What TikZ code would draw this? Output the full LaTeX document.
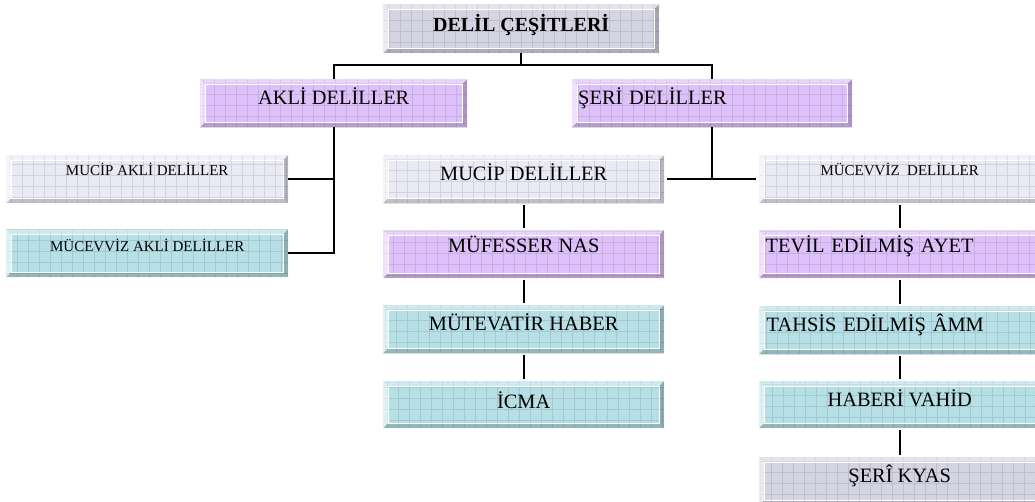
\documentclass[tikz,border=0pt]{standalone}
\usepackage{fontspec}
\setmainfont{Liberation Serif}
\usetikzlibrary{calc}
\definecolor{lgray}{RGB}{234,234,245}
\definecolor{dgray}{RGB}{212,212,226}
\definecolor{purp}{RGB}{222,192,250}
\definecolor{tealc}{RGB}{182,224,230}
\tikzset{
 bev/.style={rectangle, anchor=north west, inner sep=0pt, fill=#1, text=black,
   path picture={
     \path (path picture bounding box.south west) coordinate (bsw)
           (path picture bounding box.north east) coordinate (bne);
     \draw[#1!55!black, opacity=0.22, line width=0.7pt] (bsw) grid[step=11pt] (bne);
     \fill[white, opacity=0.55] (bsw) -- (bsw |- bne) -- ($(bsw |- bne)+(5pt,-5pt)$) -- ($(bsw)+(5pt,5pt)$) -- cycle;
     \fill[white, opacity=0.35] (bsw |- bne) -- (bne) -- ($(bne)+(-5pt,-5pt)$) -- ($(bsw |- bne)+(5pt,-5pt)$) -- cycle;
     \fill[black, opacity=0.22] (bne) -- (bne |- bsw) -- ($(bne |- bsw)+(-5pt,5pt)$) -- ($(bne)+(-5pt,-5pt)$) -- cycle;
     \fill[black, opacity=0.18] (bsw) -- (bne |- bsw) -- ($(bne |- bsw)+(-5pt,5pt)$) -- ($(bsw)+(5pt,5pt)$) -- cycle;
     \draw[white, line width=1.2pt] ($(bsw)+(5pt,5pt)$) rectangle ($(bne)+(-5pt,-5pt)$);
   }},
 big/.style={font=\fontsize{20.4}{24}\selectfont, text height=13.5pt, text depth=10pt},
 small/.style={font=\fontsize{15}{18}\selectfont, text height=10pt, text depth=18pt},
 conn/.style={line width=2pt},
 vconn/.style={conn, shorten <=2pt, shorten >=2pt},
}
\begin{document}
\begin{tikzpicture}[x=1pt,y=-1pt]
\useasboundingbox (0,0) rectangle (1035,501);
\clip (0,0) rectangle (1035,501);

\node[bev=dgray, font=\fontsize{20}{24}\selectfont\bfseries, text height=13.5pt, text depth=8pt, minimum width=276pt, minimum height=49pt] (delil) at (383,4) {DELİL ÇEŞİTLERİ};

\node[bev=purp, big, minimum width=267pt, minimum height=48pt] (akli) at (200,79) {AKLİ DELİLLER};
\node[bev=purp, big, minimum width=280pt, minimum height=48pt, text width=268pt, align=left] (seri) at (572,79) {ŞERİ DELİLLER};

\node[bev=lgray, small, minimum width=282pt, minimum height=48pt] (mucipakli) at (6,155) {MUCİP AKLİ DELİLLER};
\node[bev=tealc, small, text depth=14pt, minimum width=282pt, minimum height=48pt] (mucevvizakli) at (6,229) {MÜCEVVİZ AKLİ DELİLLER};

\node[bev=lgray, big, minimum width=281pt, minimum height=48pt] (mucip) at (383,155) {MUCİP DELİLLER};
\node[bev=purp, big, text depth=16pt, minimum width=281pt, minimum height=48pt] (mufesser) at (383,230) {MÜFESSER NAS};
\node[bev=tealc, big, minimum width=281pt, minimum height=48pt] (mutevatir) at (383,305) {MÜTEVATİR HABER};
\node[bev=tealc, big, text depth=5pt, minimum width=281pt, minimum height=47pt] (icma) at (383,381) {İCMA};

\node[bev=lgray, small, minimum width=281pt, minimum height=48pt] (mucevviz) at (759,155) {MÜCEVVİZ\ \ DELİLLER};
\node[bev=purp, big, text depth=16pt, minimum width=281pt, minimum height=48pt, text width=268pt, align=left] (tevil) at (759,230) {TEVİL EDİLMİŞ AYET};
\node[bev=tealc, big, minimum width=281pt, minimum height=48pt, text width=266pt, align=left] (tahsis) at (759,306) {TAHSİS EDİLMİŞ ÂMM};
\node[bev=tealc, big, minimum width=281pt, minimum height=47pt] (haberi) at (759,381) {HABERİ VAHİD};
\node[bev=dgray, big, minimum width=281pt, minimum height=48pt] (kyas) at (759,457) {ŞERÎ KYAS};

% connectors
\draw[conn] (delil.south) -- (delil.south |- 0,65) coordinate (tj);
\draw[conn] (akli.north) |- (tj) -| (seri.north);

\draw[conn] (akli.south) |- (mucevvizakli.east);
\draw[conn] (mucipakli.east) -- (mucipakli.east -| akli.south);

\draw[conn] (seri.south) -- (seri.south |- mucip.east);
\draw[conn] (mucip.east) ++(3pt,0) -- ($(mucevviz.west)+(-3pt,0)$);

\draw[vconn] (mucip) -- (mufesser);
\draw[vconn] (mufesser) -- (mutevatir);
\draw[vconn] (mutevatir) -- (icma);

\draw[vconn] (mucevviz) -- (tevil);
\draw[vconn] (tevil) -- (tahsis);
\draw[vconn] (tahsis) -- (haberi);
\draw[vconn] (haberi) -- (kyas);
\end{tikzpicture}
\end{document}
